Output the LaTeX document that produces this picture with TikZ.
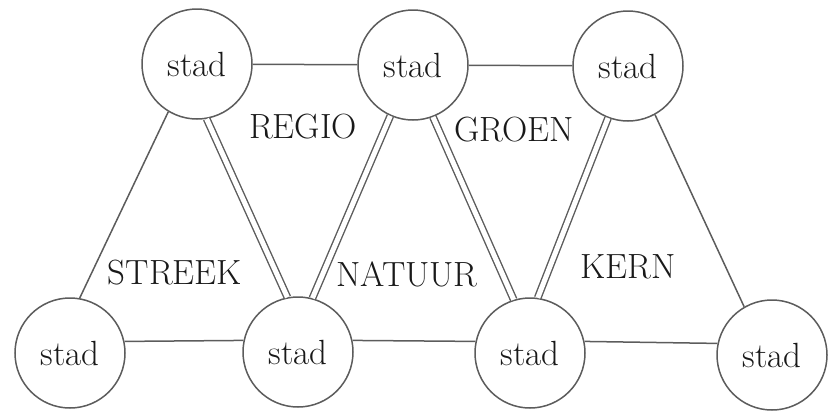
\documentclass[tikz,border=0pt]{standalone}
\definecolor{linegray}{gray}{0.36}
\definecolor{textgray}{gray}{0.10}
\begin{document}
\begin{tikzpicture}[x=1pt,y=-1pt,
  town/.style={circle,draw=linegray,line width=1.5pt,minimum size=110pt,inner sep=0pt,
    font=\fontsize{35}{40}\selectfont,text=textgray},
  lbl/.style={font=\fontsize{35}{40}\selectfont,text=textgray,inner sep=0pt},
  road/.style={draw=linegray,line width=1.5pt},
  tworoad/.style={draw=linegray,double=white,double distance=5pt,line width=1.4pt}]
\useasboundingbox (0,0) rectangle (829,410);

% cities, upper row
\node[town] (t1) at (197,64) {stad};
\node[town] (t2) at (413,65) {stad};
\node[town] (t3) at (628,66) {stad};
% cities, lower row
\node[town] (b1) at (70,353) {stad};
\node[town] (b2) at (298,352) {stad};
\node[town] (b3) at (530,353) {stad};
\node[town] (b4) at (772,355) {stad};

% zone names
\node[lbl] (regio)  at (303,127) {REGIO};
\node[lbl] (groen)  at (514,130) {GROEN};
\node[lbl] (streek) at (175,273) {STREEK};
\node[lbl] (natuur) at (407,274) {NATUUR};
\node[lbl] (kern)   at (628,267) {KERN};

% horizontal links
\draw[road] (t1) -- (t2);
\draw[road] (t2) -- (t3);
\draw[road] (b1.12) -- (b2.168);
\draw[road] (b2.12) -- (b3.168);
\draw[road] (b3.12) -- (b4.168);

% outer single links
\draw[road] (t1.239) -- (b1.80);
\draw[road] (t3.299) -- (b4.120);

% inner double links
\draw[tworoad] (t1.280) -- (b2.101);
\draw[tworoad] (t2.246) -- (b2.75);
\draw[tworoad] (t2.291) -- (b3.107);
\draw[tworoad] (t3.249) -- (b3.82);
\end{tikzpicture}
\end{document}
